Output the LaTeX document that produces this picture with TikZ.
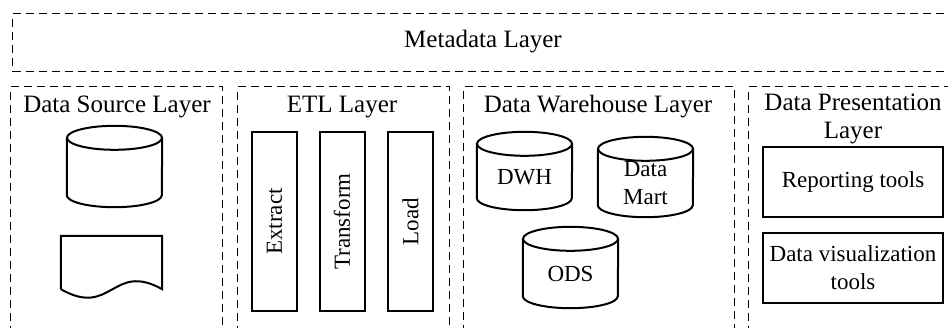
\documentclass[tikz,border=0pt]{standalone}
\usepackage{fontspec}
\setmainfont{Liberation Serif}

\tikzset{
    layerbox/.style={draw,line width=1.1pt,dash pattern=on 8pt off 5pt,anchor=north west,inner sep=0pt},
    layertitle/.style={font=\fontsize{25}{28}\selectfont,align=center,inner sep=0pt},
    dbbody/.style={minimum width=95pt,inner sep=0pt,font=\fontsize{23}{28}\selectfont,align=center},
    toolbox/.style={draw,line width=2pt,minimum width=180pt,minimum height=70pt,inner sep=0pt,
                    font=\fontsize{23}{28}\selectfont,align=center},
    etlbox/.style={draw,line width=2pt,minimum width=45pt,minimum height=179pt,inner sep=0pt}
}
% cylinder drawn round a body node, top ellipse centred on its north side
\newcommand{\dbcyl}[1]{%
    \draw[line width=2pt] (#1.north west) -- ([yshift=12pt]#1.south west)
        arc[start angle=180,end angle=360,x radius=47.5pt,y radius=12pt] -- (#1.north east);
    \draw[line width=2pt] (#1.north) ellipse[x radius=47.5pt,y radius=12pt];}

\begin{document}
\begin{tikzpicture}[x=1pt,y=-1pt]
\useasboundingbox (0,0) rectangle (948,327);
\clip (0,0) rectangle (948,327);
% layers
\node[layerbox,minimum width=950pt,minimum height=58pt] (meta) at (12,13) {};
\node[layerbox,minimum width=212pt,minimum height=260pt] (srclayer) at (10,86) {};
\node[layerbox,minimum width=212pt,minimum height=260pt] (etllayer) at (237,86) {};
\node[layerbox,minimum width=271pt,minimum height=260pt] (dwhlayer) at (463,86) {};
\node[layerbox,minimum width=212pt,minimum height=260pt] (preslayer) at (748,86) {};
% titles
\node[layertitle] (metatitle) at (483,42) {Metadata Layer};
\node[layertitle] (srctitle) at (117,107) {Data Source Layer};
\node[layertitle] (etltitle) at (342,107) {ETL Layer};
\node[layertitle] (dwhtitle) at (598,107) {Data Warehouse Layer};
\node[layertitle] (prestitle) at (853,119) {Data Presentation\\Layer};
% data source
\node[dbbody,minimum height=69pt] (srcdb) at (114.5,172.5) {};
\dbcyl{srcdb}
\node[minimum width=101pt,minimum height=53pt,inner sep=0pt] (srcfile) at (111.5,262.5) {};
\draw[line width=2pt] (srcfile.south west) -- (srcfile.north west) -- (srcfile.north east)
    -- (srcfile.south east) .. controls ++(-50,-28) and ++(51,29) .. (srcfile.south west);
% etl
\node[etlbox] (extract) at (274.5,221.5) {};
\node[etlbox] (transform) at (342,221.5) {};
\node[etlbox] (load) at (410.5,221.5) {};
\begin{scope}[every node/.style={rotate=90,font=\fontsize{23}{28}\selectfont,inner sep=0pt}]
    \node at (extract) {Extract};
    \node at (transform) {Transform};
    \node at (load) {Load};
\end{scope}
% warehouse
\node[dbbody,minimum height=66pt] (dwh) at (524.5,177) {DWH};
\node[dbbody,minimum height=68pt] (mart) at (645.5,183) {Data\\Mart};
\node[dbbody,minimum height=69pt] (ods) at (570.5,273.5) {ODS};
\dbcyl{dwh}
\dbcyl{mart}
\dbcyl{ods}
% presentation
\node[toolbox] (report) at (853,182) {Reporting tools};
\node[toolbox] (visual) at (853,268) {Data visualization\\tools};
\end{tikzpicture}
\end{document}
